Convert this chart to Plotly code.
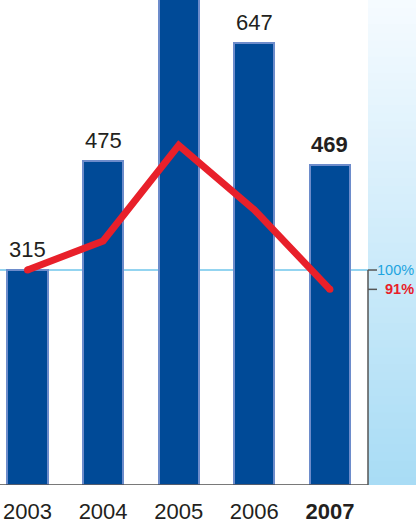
import plotly.graph_objects as go

# Annual volumes (2005 bar runs past the top of the chart)
years = ["2003", "2004", "2005", "2006", "2007"]
volumes = [315, 475, 790, 647, 469]
# Index relative to 2003 (= 100 %)
index_pct = [100, 113.5, 158, 128, 91]
# Right-hand scale marks
scale_marks = [100, 91]
scale_labels = ["100%", "<b>91%</b>"]
scale_colors = ["#1ea4e0", "#e8202a"]

W, H = 416, 527
BOTTOM = 42
STEP = 75.6          # px between category centres
FIRST_CENTER = 27.5  # px of the first category centre
PANEL_LEFT = 368     # px where the shaded panel begins
Y_MAX = 710.6

x_pos = list(range(len(years)))
x_lo = -FIRST_CENTER / STEP
x_hi = (W - FIRST_CENTER) / STEP
x_panel = (PANEL_LEFT - FIRST_CENTER) / STEP
y2_max = Y_MAX * 100 / volumes[0]

fig = go.Figure()

fig.add_trace(go.Bar(
    x=x_pos, y=volumes, width=0.53,
    marker=dict(color="#004a97", line=dict(color="#6d8ccb", width=2)),
    hoverinfo="skip",
))

fig.add_trace(go.Scatter(
    x=x_pos, y=index_pct, yaxis="y2", mode="lines",
    line=dict(color="#e8202a", width=7),
    hoverinfo="skip",
))
# rounded line ends
fig.add_trace(go.Scatter(
    x=[x_pos[0], x_pos[-1]], y=[index_pct[0], index_pct[-1]], yaxis="y2",
    mode="markers", marker=dict(color="#e8202a", size=7),
    hoverinfo="skip",
))

shapes = []
# shaded panel on the right: overlapping bands forming a vertical gradient
n_bands = 60
top_rgb = (246, 251, 255)
bot_rgb = (168, 220, 245)
band_h = Y_MAX / n_bands
for i in range(n_bands):
    t = (i + 0.5) / n_bands
    c = tuple(round(top_rgb[k] + (bot_rgb[k] - top_rgb[k]) * t) for k in range(3))
    y_top = Y_MAX - i * band_h
    y_bot = max(0, y_top - band_h * 2)
    shapes.append(dict(type="rect", xref="x", yref="y", layer="below",
                       x0=x_panel, x1=x_hi + 0.1, y0=y_bot, y1=y_top,
                       fillcolor="rgb(%d,%d,%d)" % c, line=dict(width=0)))

# 100 % reference line across the bars
shapes.append(dict(type="line", xref="x", yref="y2", layer="below",
                   x0=x_lo, x1=x_panel, y0=scale_marks[0], y1=scale_marks[0],
                   line=dict(color="#29a9e1", width=1)))
# baseline
shapes.append(dict(type="line", xref="x", yref="y",
                   x0=x_lo, x1=x_panel, y0=0, y1=0,
                   line=dict(color="#4d4d4d", width=1.5)))
# right-hand index scale
shapes.append(dict(type="line", xref="x", yref="y2",
                   x0=x_panel, x1=x_panel, y0=0, y1=scale_marks[0],
                   line=dict(color="#555555", width=1.5)))
tick_len = 9 / STEP
for m in scale_marks:
    shapes.append(dict(type="line", xref="x", yref="y2",
                       x0=x_panel, x1=x_panel + tick_len, y0=m, y1=m,
                       line=dict(color="#555555", width=1.5)))

FONT = "Liberation Sans, Arial, sans-serif"
annotations = []
for i, v in enumerate(volumes):
    if v > Y_MAX:
        continue
    txt = "<b>%d</b>" % v if i == len(volumes) - 1 else str(v)
    annotations.append(dict(x=i, y=v, xref="x", yref="y", text=txt,
                            showarrow=False, yanchor="bottom", yshift=6,
                            font=dict(size=22, color="#231f20", family=FONT)))
for m, lab, col in zip(scale_marks, scale_labels, scale_colors):
    annotations.append(dict(x=1, y=m, xref="paper", yref="y2", text=lab,
                            showarrow=False, xanchor="right", yanchor="middle",
                            font=dict(size=14.5, color=col, family=FONT)))

tick_text = [("<b>%s</b>" % y) if i == len(years) - 1 else y for i, y in enumerate(years)]

fig.update_layout(
    width=W, height=H, autosize=False,
    margin=dict(l=0, r=0, t=0, b=BOTTOM, pad=0),
    paper_bgcolor="white", plot_bgcolor="white",
    showlegend=False,
    bargap=0,
    xaxis=dict(range=[x_lo, x_hi], tickvals=x_pos, ticktext=tick_text,
               showgrid=False, zeroline=False, showline=False, ticks="",
               ticklabelstandoff=11,
               tickfont=dict(size=22, color="#231f20", family=FONT),
               fixedrange=True),
    yaxis=dict(range=[0, Y_MAX], visible=False, fixedrange=True),
    yaxis2=dict(range=[0, y2_max], overlaying="y", visible=False, fixedrange=True),
    shapes=shapes,
    annotations=annotations,
)

fig.write_html("out.html")
